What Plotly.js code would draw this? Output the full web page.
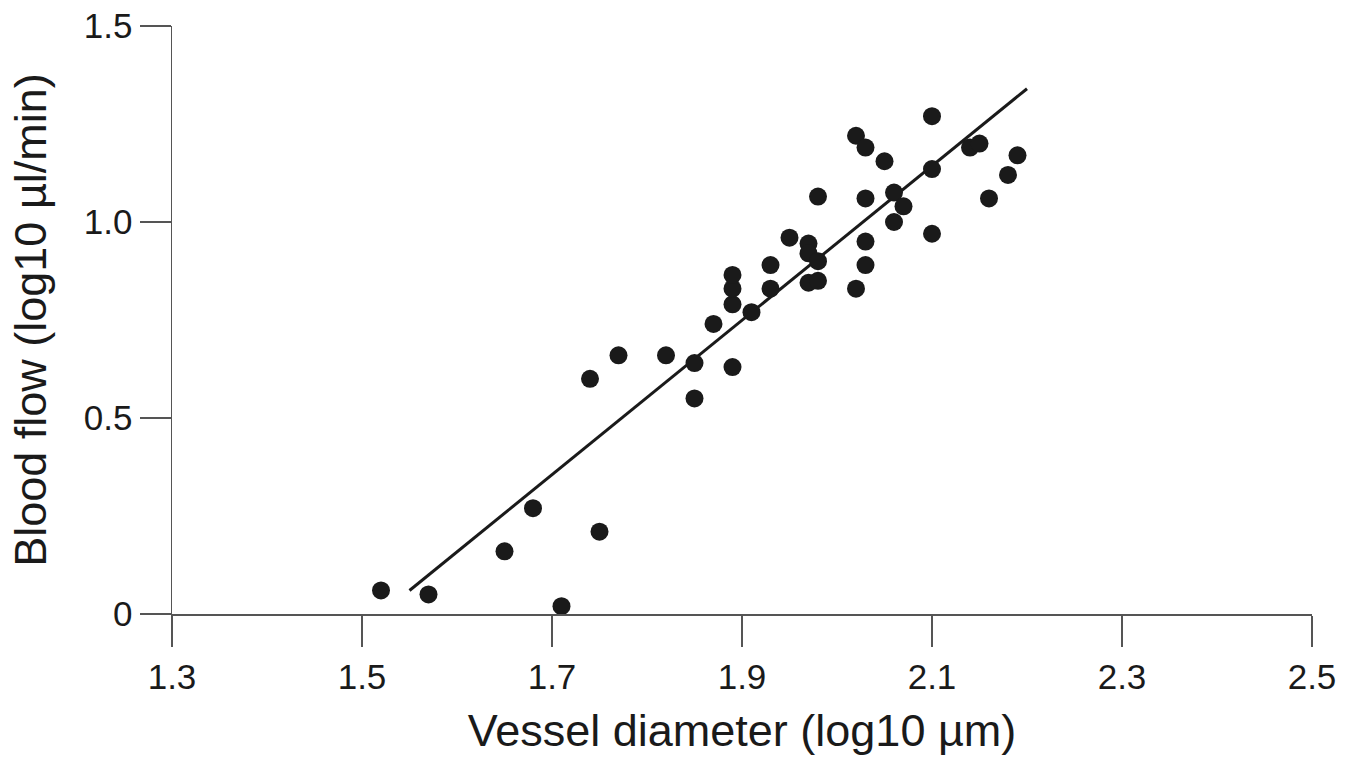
<!DOCTYPE html>
<html>
<head>
<meta charset="utf-8">
<script src="https://cdn.plot.ly/plotly-3.0.1.min.js"></script>
<style>html,body{margin:0;padding:0;background:#fff;}#chart{width:1355px;height:760px;}</style>
</head>
<body>
<div id="chart"></div>
<script>
// Data
const vesselDiameter = [1.52, 1.57, 1.65, 1.68, 1.71, 1.75, 1.74, 1.77, 1.82, 1.85, 1.85, 1.89, 1.87, 1.89, 1.89, 1.89, 1.91, 1.93, 1.93, 1.95, 1.97, 1.97, 1.98, 1.97, 1.98, 1.98, 2.02, 2.03, 2.03, 2.03, 2.06, 2.06, 2.07, 2.10, 2.10, 2.10, 2.02, 2.03, 2.05, 2.14, 2.15, 2.19, 2.18, 2.16];
const bloodFlow = [0.06, 0.05, 0.16, 0.27, 0.02, 0.21, 0.60, 0.66, 0.66, 0.64, 0.55, 0.63, 0.74, 0.79, 0.83, 0.865, 0.77, 0.83, 0.89, 0.96, 0.945, 0.92, 0.90, 0.845, 0.85, 1.065, 0.83, 0.89, 0.95, 1.06, 1.00, 1.075, 1.04, 0.97, 1.135, 1.27, 1.22, 1.19, 1.155, 1.19, 1.20, 1.17, 1.12, 1.06];
const fitLineX = [1.55, 2.20];
const fitLineY = [0.06, 1.34];
const xTickVals = [1.3, 1.5, 1.7, 1.9, 2.1, 2.3, 2.5];
const xTickText = ['1.3', '1.5', '1.7', '1.9', '2.1', '2.3', '2.5'];
const yTickVals = [0, 0.5, 1.0, 1.5];
const yTickText = ['0', '0.5', '1.0', '1.5'];

const ink = '#1a1a1a';
const axisCol = '#555555';
const fontFam = '"Liberation Sans", Arial, Helvetica, sans-serif';

const traces = [
  {
    x: fitLineX, y: fitLineY, mode: 'lines', type: 'scatter',
    line: {color: ink, width: 3}, hoverinfo: 'skip', showlegend: false
  },
  {
    x: vesselDiameter, y: bloodFlow, mode: 'markers', type: 'scatter',
    marker: {color: ink, size: 18, line: {width: 0}}, showlegend: false
  }
];

const layout = {
  width: 1355, height: 760,
  margin: {l: 172, r: 43, t: 26, b: 146},
  paper_bgcolor: '#ffffff', plot_bgcolor: '#ffffff',
  font: {family: fontFam, color: ink, size: 34},
  showlegend: false,
  xaxis: {
    range: [1.3, 2.5], tickvals: xTickVals, ticktext: xTickText,
    showline: true, linecolor: axisCol, linewidth: 1.5,
    ticks: 'outside', ticklen: 31, tickwidth: 1.5, tickcolor: axisCol,
    showgrid: false, zeroline: false,
    tickfont: {size: 35, family: fontFam, color: ink},
    title: {text: 'Vessel diameter (log10 µm)', font: {size: 45, family: fontFam, color: ink}, standoff: 20}
  },
  yaxis: {
    range: [0, 1.5], tickvals: yTickVals, ticktext: yTickText,
    showline: true, linecolor: axisCol, linewidth: 1.5,
    ticks: 'outside', ticklen: 31, tickwidth: 1.5, tickcolor: axisCol,
    showgrid: false, zeroline: false,
    tickfont: {size: 35, family: fontFam, color: ink},
    title: {text: 'Blood flow (log10 µl/min)', font: {size: 45, family: fontFam, color: ink}, standoff: 23}
  }
};

Plotly.newPlot('chart', traces, layout, {staticPlot: true, displayModeBar: false});
</script>
</body>
</html>
